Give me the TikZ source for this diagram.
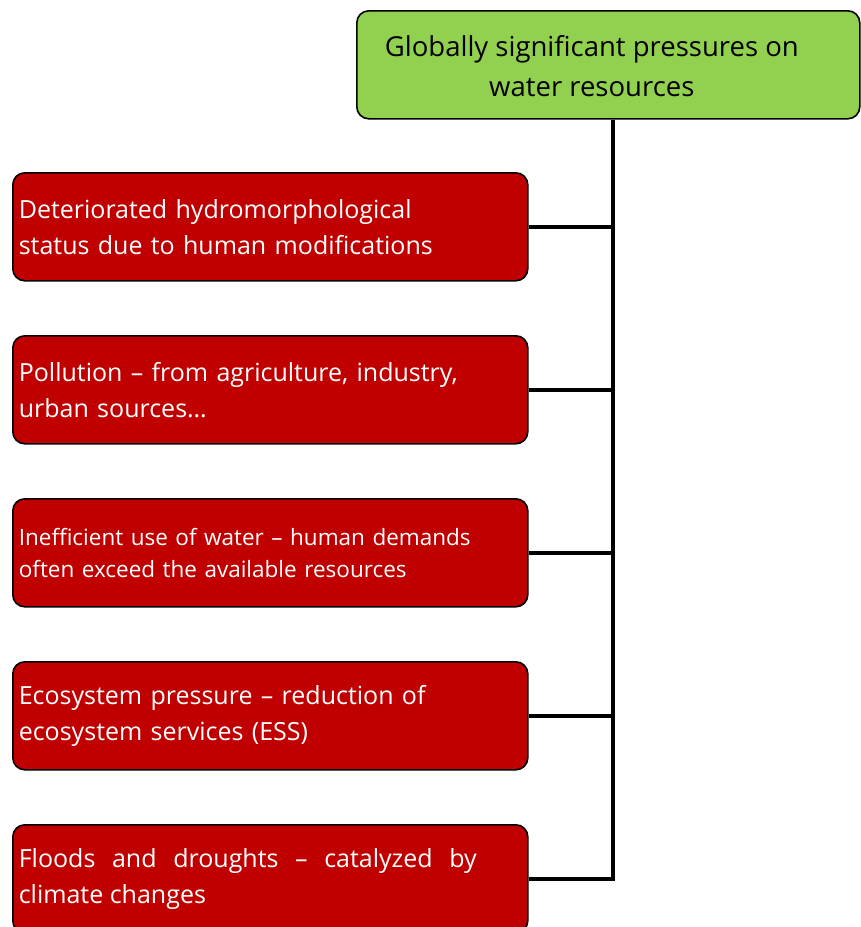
\documentclass[tikz,border=0pt]{standalone}
\usepackage{fontspec}
\setmainfont{Open Sans}
\definecolor{leafgreen}{HTML}{92D050}
\definecolor{deepred}{HTML}{C00000}
\begin{document}
\begin{tikzpicture}[x=1pt,y=-1pt,
  box/.style={draw=black, line width=1.6pt, rounded corners=12pt,
    minimum height=108pt, inner ysep=0pt},
  headbox/.style={box, fill=leafgreen, text=black, minimum width=503pt,
    font=\fontsize{27.5}{38}\selectfont},
  itembox/.style={box, fill=deepred, text=white, minimum width=515pt,
    inner xsep=6pt, text width=503pt, align=left,
    font=\fontsize{25}{36}\selectfont},
  link/.style={draw=black, line width=4.5pt}]
\useasboundingbox (0,0) rectangle (861,927);

\node[headbox, anchor=north west] (head) at (356,10)
  {\raisebox{-4pt}[\height][\depth]{\begin{tabular}{@{}c@{}}Globally significant pressures on\\[2pt]water resources\end{tabular}}\hspace*{33pt}};

\node[itembox, anchor=north west] (p1) at (12,172)
  {Deteriorated hydromorphological\\status due to human modifications};
\node[itembox, anchor=north west] (p2) at (12,335)
  {Pollution – from agriculture, industry,\\urban sources…};
\node[itembox, anchor=north west, font=\fontsize{22.5}{32}\selectfont] (p3) at (12,498)
  {Inefficient use of water – human demands\\often exceed the available resources};
\node[itembox, anchor=north west] (p4) at (12,661)
  {Ecosystem pressure – reduction of\\ecosystem services (ESS)};
\node[itembox, anchor=north west] (p5) at (12,824)
  {\parbox{458pt}{\fontsize{25}{36}\selectfont\spaceskip=0.26em plus 40pt
   Floods and droughts – catalyzed by\linebreak climate changes}};

\coordinate (trunk) at (613,0);

\draw[link, line join=miter] (head.south -| trunk) |- (p5.east);
\foreach \n in {p1,p2,p3,p4}
  \draw[link] (\n.east) -- (\n.east -| trunk);
\end{tikzpicture}
\end{document}
